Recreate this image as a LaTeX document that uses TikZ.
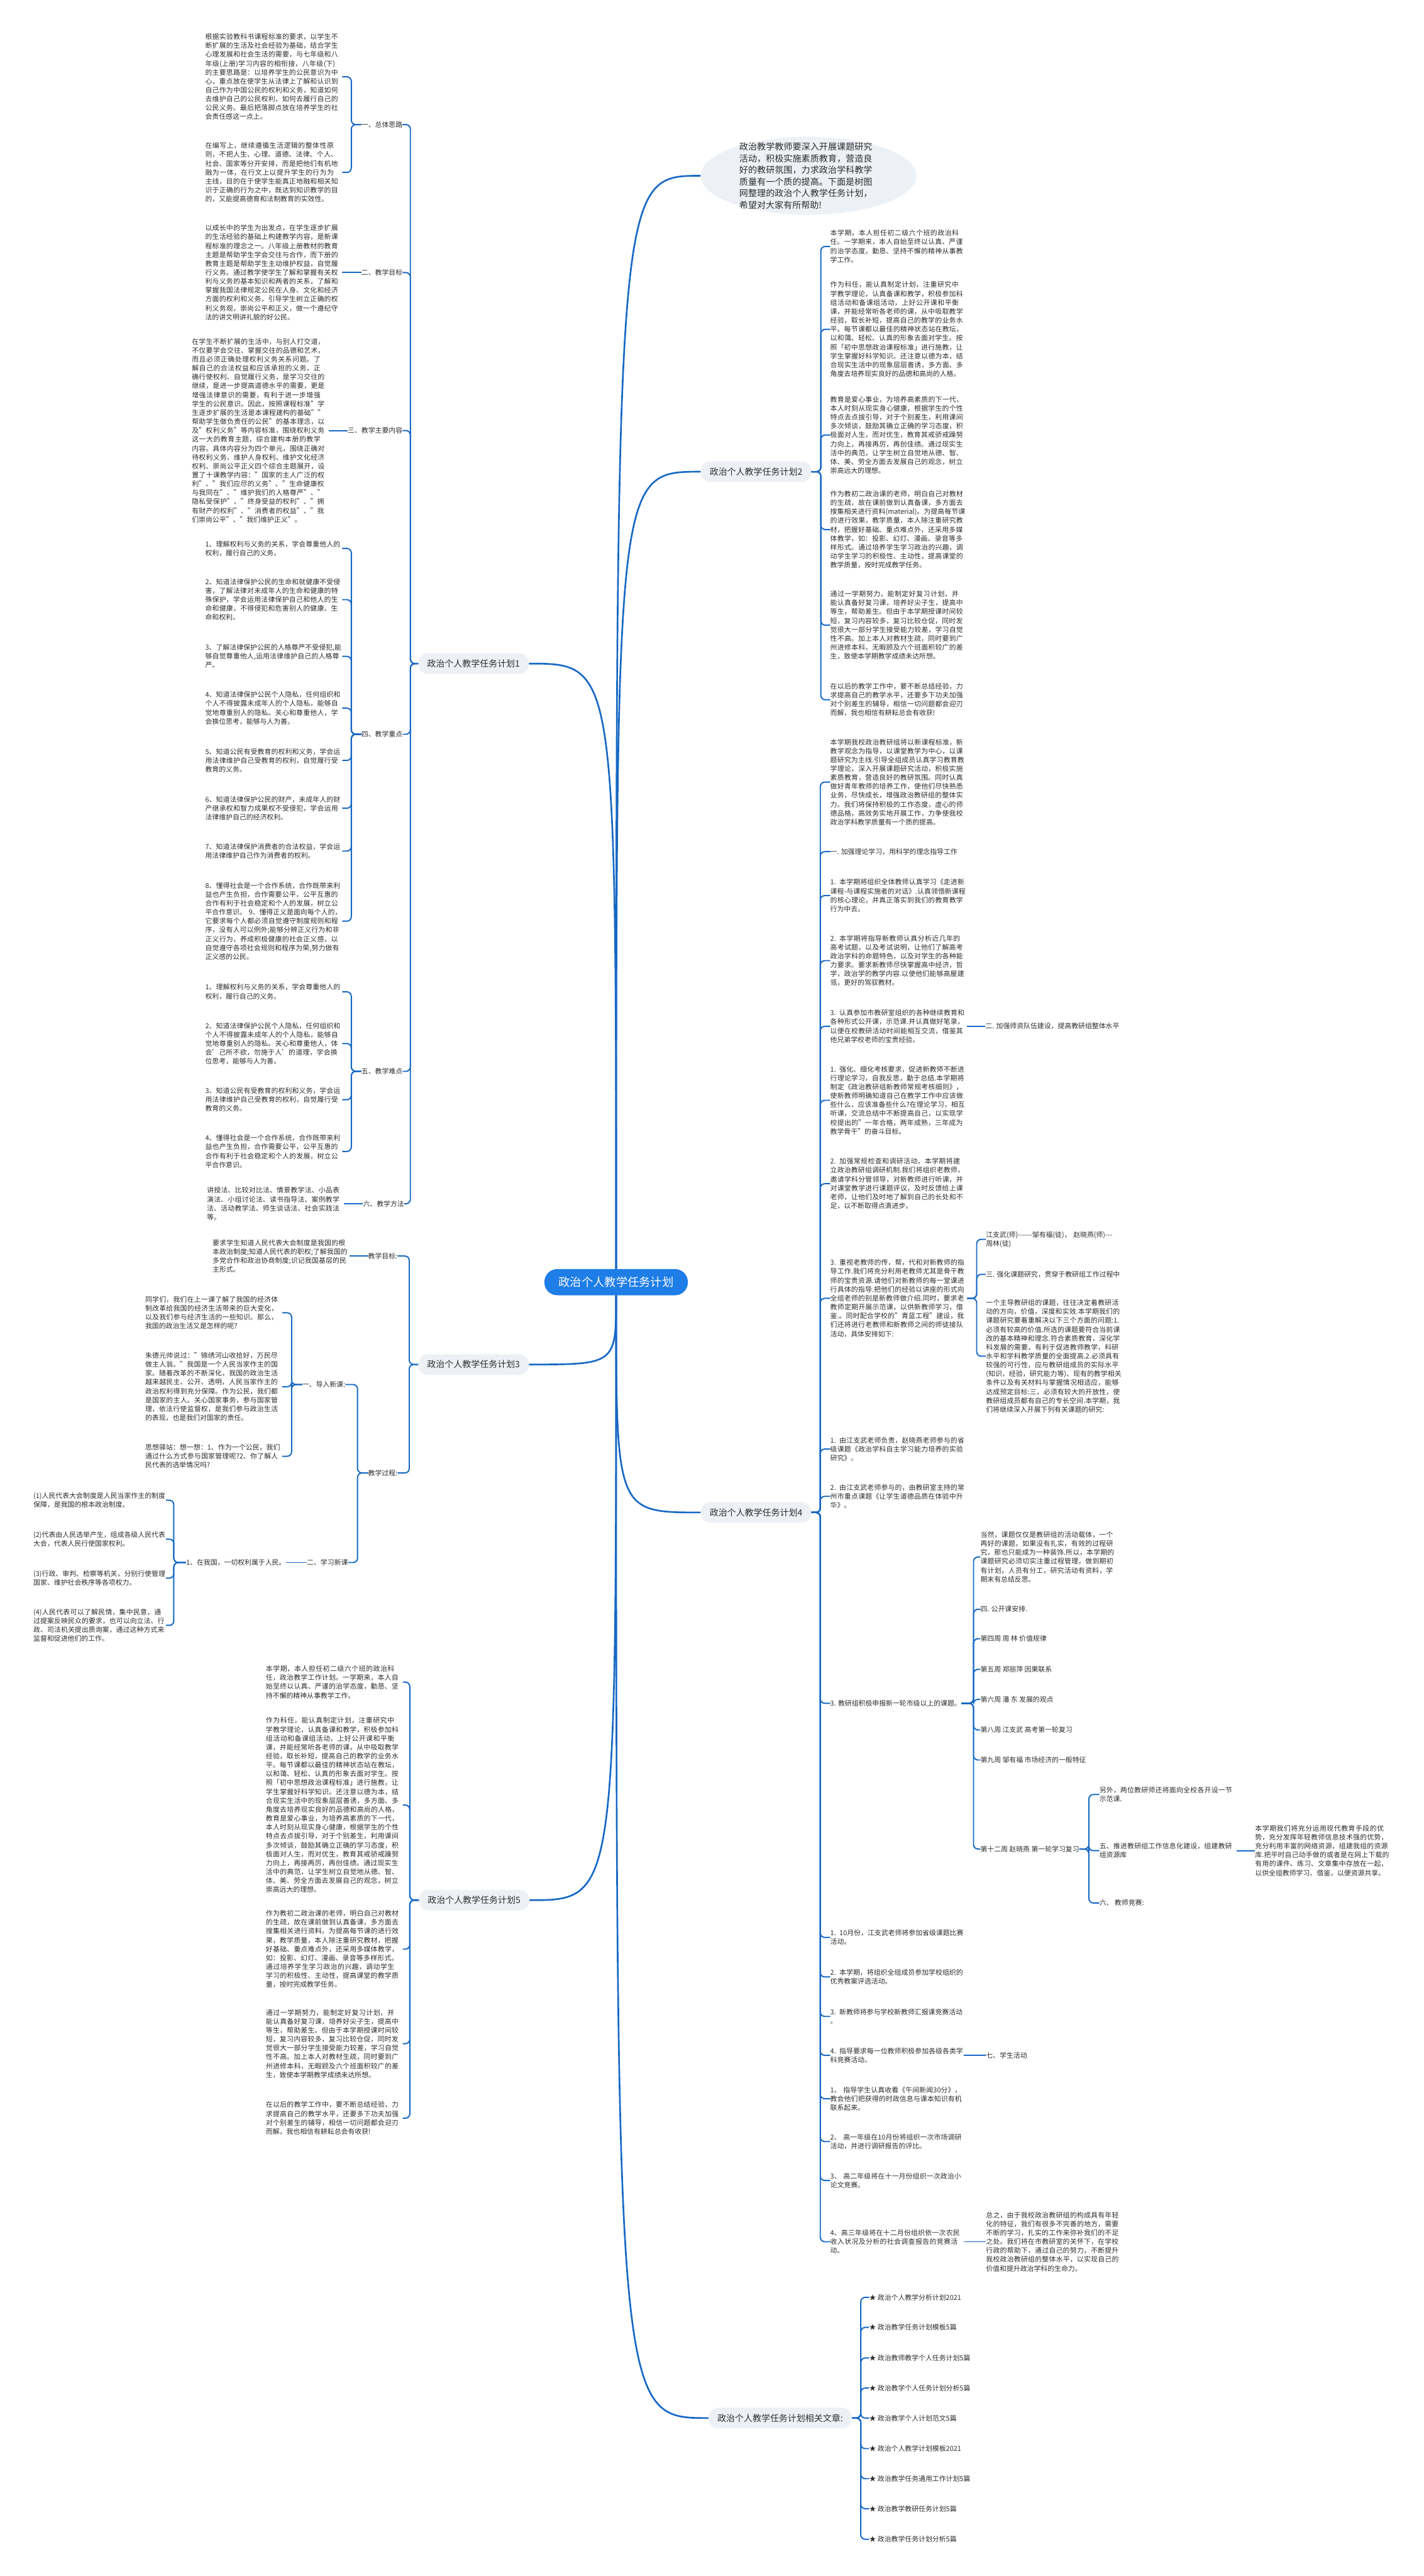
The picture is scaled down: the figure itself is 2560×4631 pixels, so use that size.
\documentclass[tikz,border=0pt]{standalone}
\usepackage{fontspec}
\setmainfont{Noto Sans CJK SC}
\usetikzlibrary{shapes.geometric}
\XeTeXlinebreaklocale "zh"
\XeTeXlinebreakskip=0pt plus 1pt
\definecolor{rootblue}{RGB}{30,125,230}
\definecolor{lineblue}{RGB}{22,104,196}
\definecolor{pillgray}{RGB}{237,240,244}
\definecolor{textgray}{RGB}{45,45,45}
\tikzset{
  txt/.style={font=\fontsize{12.3}{16}\selectfont, text=textgray, text width=246pt, align=left, inner sep=0pt, anchor=west},
  txtn/.style={txt, text width=240pt},
  lbl/.style={font=\fontsize{12.3}{16}\selectfont, text=textgray, inner sep=0pt},
  pill/.style={fill=pillgray, rounded corners=18pt, font=\fontsize{15.8}{18}\selectfont, text=textgray, minimum height=37pt, inner xsep=16pt, inner ysep=0pt},
  rootnode/.style={fill=rootblue, rounded corners=23pt, text=white, font=\fontsize{20.7}{24}\selectfont, minimum height=47pt, minimum width=258pt, inner sep=0pt},
  br/.style={draw=lineblue, line width=2.2pt, rounded corners=8pt},
  mainline/.style={draw=lineblue, line width=3pt}
}
\begin{document}
\begin{tikzpicture}[x=1pt,y=-1pt]
\fill[white] (0,0) rectangle (2560,4631);
\useasboundingbox (0,0) rectangle (2560,4631);

% root and first level
\node[rootnode] (root) at (1108,2305) {政治个人教学任务计划};
\node[fill=pillgray, ellipse, minimum width=388pt, minimum height=140pt, inner sep=0pt] (callbg) at (1454,316) {};
\node[font=\fontsize{15.9}{21}\selectfont, text=textgray, text width=241pt, align=left, inner sep=0pt] (call) at (1450,316) {政治教学教师要深入开展课题研究活动，积极实施素质教育，营造良好的教研氛围，力求政治学科教学质量有一个质的提高。下面是树图网整理的政治个人教学任务计划，希望对大家有所帮助!};

\node[pill, anchor=west] (p1) at (752,1193) {政治个人教学任务计划1};
\node[pill, anchor=west] (p3) at (752,2453) {政治个人教学任务计划3};
\node[pill, anchor=west] (p5) at (753,3416) {政治个人教学任务计划5};
\node[pill, anchor=west] (p2) at (1260,848) {政治个人教学任务计划2};
\node[pill, anchor=west] (p4) at (1260,2719) {政治个人教学任务计划4};
\node[pill, anchor=east] (p6) at (1532,4347) {政治个人教学任务计划相关文章:};

\draw[mainline] (root.north) .. controls (1108,316) .. (callbg.west);
\draw[mainline] (root.north) .. controls (1108,848) .. (p2.west);
\draw[mainline] (root.north) .. controls (1108,1193) .. (p1.east);
\draw[mainline] (root.south) .. controls (1108,2453) .. (p3.east);
\draw[mainline] (root.south) .. controls (1108,3416) .. (p5.east);
\draw[mainline] (root.south) .. controls (1108,2719) .. (p4.west);
\draw[mainline] (root.south) .. controls (1108,4347) .. (p6.west);

% ---------------- plan 1
\node[lbl, anchor=east] (l11) at (724,224) {一、总体思路};
\node[lbl, anchor=east] (l12) at (724,490) {二、教学目标};
\node[lbl, anchor=east] (l13) at (724,774) {三、教学主要内容};
\node[lbl, anchor=east] (l14) at (724,1320) {四、教学重点};
\node[lbl, anchor=east] (l15) at (724,1926) {五、教学难点};
\node[lbl, anchor=east] (l16) at (727,2164) {六、教学方法};
\foreach \n in {l11,l12,l13,l14,l15,l16} \draw[br] (p1.west) -- ++(-14,0) |- (\n.east);

\node[txt] (t1) at (369,138) {根据实验教科书课程标准的要求，以学生不断扩展的生活及社会经验为基础，结合学生心理发展和社会生活的需要，与七年级和八年级(上册)学习内容的相衔接，八年级(下)的主要思路是：以培养学生的公民意识为中心，重点放在使学生从法律上了解和认识到自己作为中国公民的权利和义务，知道如何去维护自己的公民权利，如何去履行自己的公民义务。最后把落脚点放在培养学生的社会责任感这一点上。};
\node[txt] (t2) at (369,310) {在编写上，继续遵循生活逻辑的整体性原则，不把人生、心理、道德、法律、个人、社会、国家等分开安排，而是把他们有机地融为一体，在行文上以提升学生的行为为主线，目的在于使学生能真正地融和相关知识于正确的行为之中，既达到知识教学的目的，又能提高德育和法制教育的实效性。};
\node[txt] (t3) at (369,490) {以成长中的学生为出发点，在学生逐步扩展的生活经验的基础上构建教学内容，是新课程标准的理念之一。八年级上册教材的教育主题是帮助学生学会交往与合作，而下册的教育主题是帮助学生主动维护权益，自觉履行义务。通过教学使学生了解和掌握有关权利与义务的基本知识和两者的关系，了解和掌握我国法律规定公民在人身、文化和经济方面的权利和义务，引导学生树立正确的权利义务观，崇尚公平和正义，做一个遵纪守法的讲文明讲礼貌的好公民。};
\node[txt] (t4) at (345,774) {在学生不断扩展的生活中，与别人打交道，不仅要学会交往、掌握交往的品德和艺术，而且必须正确处理权利义务关系问题。了解自己的合法权益和应该承担的义务，正确行使权利、自觉履行义务，是学习交往的继续，是进一步提高道德水平的需要，更是增强法律意识的需要，有利于进一步增强学生的公民意识。因此，按照课程标准"学生逐步扩展的生活是本课程建构的基础""帮助学生做负责任的公民"的基本理念，以及"权利义务"等内容标准，围绕权利义务这一大的教育主题，综合建构本册的教学内容。具体内容分为四个单元，围绕正确对待权利义务、维护人身权利、维护文化经济权利、崇尚公平正义四个综合主题展开，设置了十课教学内容："国家的主人广泛的权利"、"我们应尽的义务"、"生命健康权与我同在"、"维护我们的人格尊严"、"隐私受保护"、"终身受益的权利"、"拥有财产的权利"、"消费者的权益"、"我们崇尚公平"、"我们维护正义"。};
\draw[br] (l11.west) -- ++(-18,0) |- (t1.east);
\draw[br] (l11.west) -- ++(-18,0) |- (t2.east);
\draw[br] (l12.west) -- (t3.east);
\draw[br] (l13.west) -- (t4.east);

\node[txt] (k1) at (369,986) {1、理解权利与义务的关系，学会尊重他人的权利，履行自己的义务。};
\node[txt] (k2) at (369,1078) {2、知道法律保护公民的生命和就健康不受侵害，了解法律对未成年人的生命和健康的特殊保护，学会运用法律保护自己和他人的生命和健康，不得侵犯和危害别人的健康、生命和权利。};
\node[txt] (k3) at (369,1180) {3、了解法律保护公民的人格尊严不受侵犯,能够自觉尊重他人,运用法律维护自己的人格尊严。};
\node[txt] (k4) at (369,1273) {4、知道法律保护公民个人隐私，任何组织和个人不得披露未成年人的个人隐私，能够自觉地尊重别人的隐私。关心和尊重他人，学会换位思考，能够与人为善。};
\node[txt] (k5) at (369,1367) {5、知道公民有受教育的权利和义务，学会运用法律维护自己受教育的权利，自觉履行受教育的义务。};
\node[txt] (k6) at (369,1453) {6、知道法律保护公民的财产，未成年人的财产继承权和智力成果权不受侵犯，学会运用法律维护自己的经济权利。};
\node[txt] (k7) at (369,1530) {7、知道法律保护消费者的合法权益，学会运用法律维护自己作为消费者的权利。};
\node[txt] (k8) at (369,1656) {8、懂得社会是一个合作系统，合作既带来利益也产生负担，合作需要公平，公平互惠的合作有利于社会稳定和个人的发展，树立公平合作意识。 9、懂得正义是面向每个人的，它要求每个人都必须自觉遵守制度规则和程序，没有人可以例外;能够分辨正义行为和非正义行为，养成积极健康的社会正义感，以自觉遵守各项社会规则和程序为荣,努力做有正义感的公民。};
\foreach \n in {k1,k2,k3,k4,k5,k6,k7,k8} \draw[br] (l14.west) -- ++(-18,0) |- (\n.east);

\node[txt] (m1) at (369,1783) {1、理解权利与义务的关系，学会尊重他人的权利，履行自己的义务。};
\node[txt] (m2) at (369,1876) {2、知道法律保护公民个人隐私，任何组织和个人不得披露未成年人的个人隐私，能够自觉地尊重别人的隐私。关心和尊重他人，体会'己所不欲，勿施于人'的道理，学会换位思考，能够与人为善。};
\node[txt] (m3) at (369,1977) {3、知道公民有受教育的权利和义务，学会运用法律维护自己受教育的权利，自觉履行受教育的义务。};
\node[txt] (m4) at (369,2070) {4、懂得社会是一个合作系统，合作既带来利益也产生负担，合作需要公平，公平互惠的合作有利于社会稳定和个人的发展，树立公平合作意识。};
\foreach \n in {m1,m2,m3,m4} \draw[br] (l15.west) -- ++(-18,0) |- (\n.east);

\node[txt] (t6) at (372,2164) {讲授法、比较对比法、情景教学法、小品表演法、小组讨论法、读书指导法、案例教学法、活动教学法、师生谈话法、社会实践法等。};
\draw[br] (l16.west) -- (t6.east);

% ---------------- plan 3
\node[lbl, anchor=east] (q1) at (715,2258) {教学目标:};
\node[lbl, anchor=east] (q2) at (715,2648) {教学过程:};
\draw[br] (p3.west) -- ++(-16,0) |- (q1.east);
\draw[br] (p3.west) -- ++(-16,0) |- (q2.east);
\node[txt] (q1t) at (382,2258) {要求学生知道人民代表大会制度是我国的根本政治制度;知道人民代表的职权;了解我国的多党合作和政治协商制度;识记我国基层的民主形式。};
\draw[br] (q1.west) -- (q1t.east);
\node[lbl, anchor=east] (q21) at (621,2489) {一、导入新课:};
\node[lbl, anchor=east] (q22) at (626,2809) {二、学习新课};
\draw[br] (q2.west) -- ++(-19,0) |- (q21.east);
\draw[br] (q2.west) -- ++(-19,0) |- (q22.east);
\node[txt] (a1) at (261,2360) {同学们，我们在上一课了解了我国的经济体制改革给我国的经济生活带来的巨大变化，以及我们参与经济生活的一些知识。那么，我国的政治生活又是怎样的呢?};
\node[txt] (a2) at (261,2493) {朱德元帅说过："锦绣河山收拾好，万民尽做主人翁。"我国是一个人民当家作主的国家。随着改革的不断深化，我国的政治生活越来越民主、公开、透明，人民当家作主的政治权利得到充分保障。作为公民，我们都是国家的主人。关心国家事务，参与国家管理，依法行使监督权，是我们参与政治生活的表现，也是我们对国家的责任。};
\node[txt] (a3) at (261,2618) {思想驿站：想一想：1、作为一个公民，我们通过什么方式参与国家管理呢?2、你了解人民代表的选举情况吗?};
\foreach \n in {a1,a2,a3} \draw[br] (q21.west) -- ++(-19,0) |- (\n.east);
\node[lbl, anchor=east] (q221) at (514,2809) {1、在我国，一切权利属于人民。};
\draw[br] (q22.west) -- (q221.east);
\node[txt, text width=238pt] (b1) at (60,2697) {(1)人民代表大会制度是人民当家作主的制度保障，是我国的根本政治制度。};
\node[txt, text width=238pt] (b2) at (60,2767) {(2)代表由人民选举产生，组成各级人民代表大会，代表人民行使国家权利。};
\node[txt, text width=238pt] (b3) at (60,2837) {(3)行政、审判、检察等机关，分别行使管理国家、维护社会秩序等各项权力。};
\node[txt, text width=238pt] (b4) at (60,2922) {(4)人民代表可以了解民情，集中民意，通过提案反映民众的要求，也可以向立法、行政、司法机关提出质询案，通过这种方式来监督和促进他们的工作。};
\foreach \n in {b1,b2,b3,b4} \draw[br] (q221.west) -- ++(-22,0) |- (\n.east);

% ---------------- plan 5
\node[txt] (c1) at (478,3024) {本学期，本人担任初二级六个班的政治科任，政治教学工作计划。一学期来，本人自始至终以认真、严谨的治学态度，勤恳、坚持不懈的精神从事教学工作。};
\node[txt] (c2) at (478,3245) {作为科任，能认真制定计划，注重研究中学教学理论，认真备课和教学，积极参加科组活动和备课组活动，上好公开课和平衡课，并能经常听各老师的课，从中吸取教学经验，取长补短，提高自己的教学的业务水平。每节课都以最佳的精神状态站在教坛，以和蔼、轻松、认真的形象去面对学生。按照「初中思想政治课程标准」进行施教，让学生掌握好科学知识。还注意以德为本，结合现实生活中的现象层层善诱，多方面、多角度去培养现实良好的品德和高尚的人格，教育是爱心事业，为培养高素质的下一代，本人时刻从现实身心健康，根据学生的个性特点去点拔引导，对于个别差生，利用课间多次倾谈，鼓励其确立正确的学习态度，积极面对人生，而对优生，教育其戒骄戒躁努力向上，再接再厉，再创佳绩。通过现实生活中的典范，让学生树立自觉地从德、智、体、美、劳全方面去发展自己的观念，树立崇高远大的理想。};
\node[txt] (c3) at (478,3504) {作为教初二政治课的老师，明白自己对教材的生疏，故在课前做到认真备课，多方面去搜集相关进行资料。为提高每节课的进行效果，教学质量，本人除注重研究教材，把握好基础、重点难点外，还采用多媒体教学，如：投影、幻灯、漫画、录音等多样形式。通过培养学生学习政治的兴趣，调动学生学习的积极性、主动性，提高课堂的教学质量，按时完成教学任务。};
\node[txt] (c4) at (478,3674) {通过一学期努力，能制定好复习计划，并能认真备好复习课，培养好尖子生，提高中等生，帮助差生。但由于本学期授课时间较短，复习内容较多，复习比较仓促，同时发觉很大一部分学生接受能力较差，学习自觉性不高。加上本人对教材生疏，同时要到广州进修本科，无暇顾及六个班面积较广的差生，致使本学期教学成绩未达所想。};
\node[txt] (c5) at (478,3808) {在以后的教学工作中，要不断总结经验，力求提高自己的教学水平，还要多下功夫加强对个别差生的辅导，相信一切问题都会迎刃而解，我也相信有耕耘总会有收获!};
\foreach \n in {c1,c2,c3,c4,c5} \draw[br] (p5.west) -- ++(-16,0) |- (\n.east);

% ---------------- plan 2
\node[txt] (d1) at (1493,443) {本学期，本人担任初二级六个班的政治科任。一学期来，本人自始至终以认真、严谨的治学态度，勤恳、坚持不懈的精神从事教学工作。};
\node[txt] (d2) at (1493,592) {作为科任，能认真制定计划，注重研究中学教学理论，认真备课和教学，积极参加科组活动和备课组活动，上好公开课和平衡课，并能经常听各老师的课，从中吸取教学经验，取长补短，提高自己的教学的业务水平。每节课都以最佳的精神状态站在教坛，以和蔼、轻松、认真的形象去面对学生。按照「初中思想政治课程标准」进行施教，让学生掌握好科学知识。还注意以德为本，结合现实生活中的现象层层善诱，多方面、多角度去培养现实良好的品德和高尚的人格。};
\node[txt] (d3) at (1493,782) {教育是爱心事业，为培养高素质的下一代，本人时刻从现实身心健康，根据学生的个性特点去点拔引导，对于个别差生，利用课间多次倾谈，鼓励其确立正确的学习态度，积极面对人生，而对优生，教育其戒骄戒躁努力向上，再接再厉，再创佳绩。通过现实生活中的典范，让学生树立自觉地从德、智、体、美、劳全方面去发展自己的观念，树立崇高远大的理想。};
\node[txt] (d4) at (1493,952) {作为教初二政治课的老师，明白自己对教材的生疏，故在课前做到认真备课，多方面去搜集相关进行资料(material)。为提高每节课的进行效果，教学质量，本人除注重研究教材，把握好基础、重点难点外，还采用多媒体教学，如：投影、幻灯、漫画、录音等多样形式。通过培养学生学习政治的兴趣，调动学生学习的积极性、主动性，提高课堂的教学质量，按时完成教学任务。};
\node[txt] (d5) at (1493,1124) {通过一学期努力，能制定好复习计划，并能认真备好复习课，培养好尖子生，提高中等生，帮助差生。但由于本学期授课时间较短，复习内容较多，复习比较仓促，同时发觉很大一部分学生接受能力较差，学习自觉性不高。加上本人对教材生疏，同时要到广州进修本科，无暇顾及六个班面积较广的差生，致使本学期教学成绩未达所想。};
\node[txt] (d6) at (1493,1258) {在以后的教学工作中，要不断总结经验，力求提高自己的教学水平，还要多下功夫加强对个别差生的辅导，相信一切问题都会迎刃而解，我也相信有耕耘总会有收获!};
\foreach \n in {d1,d2,d3,d4,d5,d6} \draw[br] (p2.east) -- ++(17,0) |- (\n.west);

% ---------------- plan 4
\node[txt] (e1) at (1493,1406) {本学期我校政治教研组将以新课程标准，新教学观念为指导，以课堂教学为中心，以课题研究为主线.引导全组成员认真学习教育教学理论，深入开展课题研究活动，积极实施素质教育，营造良好的教研氛围。同时认真做好青年教师的培养工作，使他们尽快熟悉业务，尽快成长，增强政治教研组的整体实力。我们将保持积极的工作态度，虚心的师德品格，高效务实地开展工作，力争使我校政治学科教学质量有一个质的提高。};
\node[lbl, anchor=west] (e2) at (1493,1531) {一. 加强理论学习，用科学的理念指导工作};
\node[txt] (e3) at (1493,1610) {1. 本学期将组织全体教师认真学习《走进新课程-与课程实施者的对话》.认真领悟新课程的核心理论，并真正落实到我们的教育教学行为中去。};
\node[txt] (e4) at (1493,1727) {2. 本学期将指导新教师认真分析近几年的高考试题，以及考试说明，让他们了解高考政治学科的命题特色，以及对学生的各种能力要求。要求新教师尽快掌握高中经济，哲学，政治学的教学内容.以使他们能够高屋建瓴，更好的驾驭教材。};
\node[txt] (e5) at (1493,1845) {3. 认真参加市教研室组织的各种继续教育和各种形式公开课，示范课.并认真做好笔录，以便在校教研活动时间能相互交流，借鉴其他兄弟学校老师的宝贵经验。};
\node[txt] (e6) at (1493,1978) {1. 强化、细化考核要求，促进新教师不断进行理论学习，自我反思，勤于总结.本学期将制定《政治教研组新教师常规考核细则》，使新教师明确知道自己在教学工作中应该做些什么，应该准备些什么?在理论学习，相互听课，交流总结中不断提高自己，以实现学校提出的"一年合格，两年成熟，三年成为教学骨干"的奋斗目标。};
\node[txt] (e7) at (1493,2128) {2. 加强常规检查和调研活动，本学期将建立政治教研组调研机制.我们将组织老教师，邀请学科分管领导，对新教师进行听课，并对课堂教学进行课题评议，及时反馈给上课老师，让他们及时地了解到自己的长处和不足，以不断取得点滴进步。};
\node[txt] (e8) at (1493,2334) {3. 重视老教师的传，帮，代和对新教师的指导工作.我们将充分利用老教师尤其是骨干教师的宝贵资源.请他们对新教师的每一堂课进行具体的指导.把他们的经验以讲座的形式向全组老师的别是新教师做介绍.同时，要求老教师定期开展示范课，以供新教师学习，借鉴.。同时配合学校的"青蓝工程"建设，我们还将进行老教师和新教师之间的师徒接队活动，具体安排如下:};
\node[txt] (e9) at (1493,2605) {1. 由江支武老师负责，赵晓燕老师参与的省级课题《政治学科自主学习能力培养的实验研究》。};
\node[txt] (e10) at (1493,2690) {2. 由江支武老师参与的，由教研室主持的常州市重点课题《让学生道德品质在体验中升华》。};
\node[lbl, anchor=west] (e11) at (1493,3062) {3. 教研组积极申报新一轮市级以上的课题。};
\node[txtn] (e12) at (1493,3483) {1. 10月份，江支武老师将参加省级课题比赛活动。};
\node[txtn] (e13) at (1493,3554) {2. 本学期，将组织全组成员参加学校组织的优秀教案评选活动。};
\node[txtn] (e14) at (1493,3625) {3. 新教师将参与学校新教师汇报课竞赛活动\\。};
\node[txtn] (e15) at (1493,3695) {4. 指导要求每一位教师积极参加各级各类学科竞赛活动。};
\node[txtn] (e16) at (1493,3773) {1、 指导学生认真收看《午间新闻30分》，教会他们把获得的时政信息与课本知识有机联系起来。};
\node[txtn] (e17) at (1493,3850) {2、 高一年级在10月份将组织一次市场调研活动，并进行调研报告的评比。};
\node[txtn] (e18) at (1493,3920) {3、 高二年级将在十一月份组织一次政治小论文竞赛。};
\node[txtn] (e19) at (1493,4030) {4、高三年级将在十二月份组织依一次农民收入状况及分析的社会调查报告的竞赛活动。};
\foreach \n in {e1,e2,e3,e4,e5,e6,e7,e8,e9,e10,e11,e12,e13,e14,e15,e16,e17,e18,e19} \draw[br] (p4.east) -- ++(16,0) |- (\n.west);

\node[lbl, anchor=west] (e5a) at (1772,1845) {二. 加强师资队伍建设，提高教研组整体水平};
\draw[br] (e5.east) -- (e5a.west);

\node[txt] (f1) at (1773,2228) {江支武(师)-{}-{}-{}-{}-{}-邹有福(徒)，\ 赵晓燕(师)-{}-{}-\\周林(徒)};
\node[lbl, anchor=west] (f2) at (1773,2291) {三. 强化课题研究，贯穿于教研组工作过程中};
\node[txt] (f3) at (1773,2438) {一个主导教研组的课题，往往决定着教研活动的方向，价值，深度和实效.本学期我们的课题研究要着重解决以下三个方面的问题:1.必须有较高的价值.所选的课题要符合当前课改的基本精神和理念.符合素质教育，深化学科发展的需要，有利于促进教师教学，科研水平和学科教学质量的全面提高.2.必须具有较强的可行性，应与教研组成员的实际水平(知识，经验，研究能力等)、现有的教学相关条件以及有关材料与掌握情况相适应，能够达成预定目标:三，必须有较大的开放性，使教研组成员都有自己的专长空间.本学期，我们将继续深入开展下列有关课题的研究:};
\foreach \n in {f1,f2,f3} \draw[br] (e8.east) -- ++(17,0) |- (\n.west);

\node[txt] (g1) at (1763,2799) {当然，课题仅仅是教研组的活动载体，一个再好的课题，如果没有扎实，有效的过程研究，那也只能成为一种装饰.所以，本学期的课题研究必须切实注重过程管理，做到期初有计划，人员有分工，研究活动有资料，学期末有总结反思。};
\node[lbl, anchor=west] (g2) at (1763,2893) {四. 公开课安排.};
\node[lbl, anchor=west] (g3) at (1763,2946) {第四周 周 林 价值规律};
\node[lbl, anchor=west] (g4) at (1763,3001) {第五周 郑丽萍 因果联系};
\node[lbl, anchor=west] (g5) at (1763,3055) {第六周 潘 东 发展的观点};
\node[lbl, anchor=west] (g6) at (1763,3110) {第八周 江支武 高考第一轮复习};
\node[lbl, anchor=west] (g7) at (1763,3164) {第九周 邹有福 市场经济的一般特征};
\node[lbl, anchor=west] (g8) at (1763,3324) {第十二周 赵晓燕 第一轮学习复习};
\foreach \n in {g1,g2,g3,g4,g5,g6,g7,g8} \draw[br] (e11.east) -- ++(22,0) |- (\n.west);

\node[txt] (h1) at (1977,3226) {另外，两位教研师还将面向全校各开设一节示范课.};
\node[txt] (h2) at (1977,3327) {五、推进教研组工作信息化建设，组建教研组资源库};
\node[lbl, anchor=west] (h3) at (1977,3421) {六、 教师竞赛:};
\foreach \n in {h1,h2,h3} \draw[br] (g8.east) -- ++(17,0) |- (\n.west);
\node[txt] (i1) at (2257,3327) {本学期我们将充分运用现代教育手段的优势，充分发挥年轻教师信息技术强的优势，充分利用丰富的网络资源，组建我组的资源库.把平时自己动手做的或者是在网上下载的有用的课件、练习、文章集中存放在一起，以供全组教师学习、借鉴，以便资源共享。};
\draw[br] (h2.east) -- (i1.west);

\node[lbl, anchor=west] (e15a) at (1773,3695) {七、学生活动};
\draw[br] (e15.east) -- (e15a.west);
\node[txt] (j1) at (1773,4030) {总之，由于我校政治教研组的构成具有年轻化的特征，我们有很多不完善的地方，需要不断的学习，扎实的工作来弥补我们的不足之处。我们将在市教研室的关怀下，在学校行政的帮助下，通过自己的努力，不断提升我校政治教研组的整体水平，以实现自己的价值和提升政治学科的生命力。};
\draw[br] (e19.east) -- (j1.west);

% ---------------- related articles
\node[lbl, anchor=west] (r1) at (1563,4130) {★ 政治个人教学分析计划2021};
\node[lbl, anchor=west] (r2) at (1563,4184) {★ 政治教学任务计划模板5篇};
\node[lbl, anchor=west] (r3) at (1563,4239) {★ 政治教师教学个人任务计划5篇};
\node[lbl, anchor=west] (r4) at (1563,4293) {★ 政治教学个人任务计划分析5篇};
\node[lbl, anchor=west] (r5) at (1563,4347) {★ 政治教学个人计划范文5篇};
\node[lbl, anchor=west] (r6) at (1563,4402) {★ 政治个人教学计划模板2021};
\node[lbl, anchor=west] (r7) at (1563,4456) {★ 政治教学任务通用工作计划5篇};
\node[lbl, anchor=west] (r8) at (1563,4510) {★ 政治教学教研任务计划5篇};
\node[lbl, anchor=west] (r9) at (1563,4565) {★ 政治教学任务计划分析5篇};
\foreach \n in {r1,r2,r3,r4,r5,r6,r7,r8,r9} \draw[br] (p6.east) -- ++(16,0) |- (\n.west);
\end{tikzpicture}
\end{document}
